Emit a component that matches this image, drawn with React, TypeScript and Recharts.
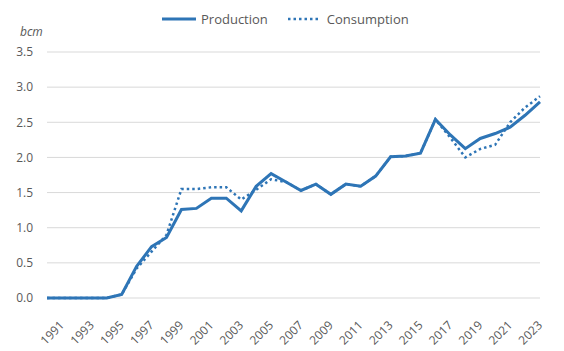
import { LineChart, Line, XAxis, YAxis, CartesianGrid } from "recharts"

const years = [
  1990, 1991, 1992, 1993, 1994, 1995, 1996, 1997, 1998, 1999, 2000, 2001,
  2002, 2003, 2004, 2005, 2006, 2007, 2008, 2009, 2010, 2011, 2012, 2013,
  2014, 2015, 2016, 2017, 2018, 2019, 2020, 2021, 2022, 2023,
]

const production = [
  0, 0, 0, 0, 0, 0.05, 0.45, 0.73, 0.86, 1.26, 1.275, 1.42, 1.42, 1.24, 1.59,
  1.77, 1.65, 1.53, 1.62, 1.475, 1.62, 1.59, 1.735, 2.01, 2.02, 2.06, 2.54,
  2.32, 2.125, 2.27, 2.34, 2.43, 2.6, 2.79,
]

const consumption = [
  0, 0, 0, 0, 0, 0.05, 0.42, 0.66, 0.9, 1.55, 1.55, 1.575, 1.575, 1.4, 1.54,
  1.69, 1.65, 1.53, 1.62, 1.475, 1.62, 1.59, 1.735, 2.01, 2.02, 2.06, 2.54,
  2.28, 2.0, 2.12, 2.18, 2.5, 2.71, 2.87,
]

const xTicks = [
  1991, 1993, 1995, 1997, 1999, 2001, 2003, 2005, 2007, 2009, 2011, 2013,
  2015, 2017, 2019, 2021, 2023,
]
const yTicks = [0, 0.5, 1, 1.5, 2, 2.5, 3, 3.5]

const data = years.map((year, i) => ({
  year,
  production: production[i],
  consumption: consumption[i],
}))

const blue = "#2e75b6"
const grey = "#595959"
const font = "'Open Sans', sans-serif"

function YearTick({ x, y, payload }: any) {
  return (
    <g transform={`translate(${x + 3},${y + 20})`}>
      <text
        textAnchor="end"
        fill={grey}
        fontSize={12}
        fontFamily={font}
        transform="rotate(-45)"
      >
        {payload.value}
      </text>
    </g>
  )
}

export default function App() {
  return (
    <div
      style={{
        position: "absolute",
        left: 0,
        top: 0,
        width: 564,
        height: 351,
        background: "#fff",
        fontFamily: font,
      }}
    >
      {/* legend */}
      <div
        style={{
          position: "absolute",
          top: 10,
          left: 162,
          display: "flex",
          alignItems: "center",
          fontSize: 13,
          color: grey,
        }}
      >
        <svg width={34} height={6} style={{ marginRight: 5 }}>
          <line x1={0} y1={3} x2={34} y2={3} stroke={blue} strokeWidth={3} />
        </svg>
        <span>Production</span>
        <svg width={33} height={6} style={{ marginLeft: 20, marginRight: 6 }}>
          <line
            x1={0}
            y1={3}
            x2={33}
            y2={3}
            stroke={blue}
            strokeWidth={2.5}
            strokeDasharray="2.5 3"
          />
        </svg>
        <span>Consumption</span>
      </div>

      <span
        style={{
          position: "absolute",
          left: 20,
          top: 23,
          fontSize: 12,
          fontStyle: "italic",
          color: grey,
        }}
      >
        bcm
      </span>

      <LineChart
        width={564}
        height={351}
        data={data}
        margin={{ top: 52, right: 24, bottom: 0, left: 0 }}
      >
        <CartesianGrid vertical={false} stroke="#d9d9d9" />
        <XAxis
          dataKey="year"
          type="number"
          domain={[1990, 2023]}
          ticks={xTicks}
          interval={0}
          height={53}
          tickLine={false}
          axisLine={false}
          tick={<YearTick />}
        />
        <YAxis
          width={47}
          domain={[0, 3.5]}
          ticks={yTicks}
          tickLine={false}
          axisLine={false}
          tickSize={0}
          tickMargin={14}
          tickFormatter={(v: number) => v.toFixed(1)}
          tick={{ fill: grey, fontSize: 12, fontFamily: font }}
        />
        <Line
          dataKey="consumption"
          stroke={blue}
          strokeWidth={2.5}
          strokeDasharray="2.5 3"
          dot={false}
          isAnimationActive={false}
        />
        <Line
          dataKey="production"
          stroke={blue}
          strokeWidth={3}
          dot={false}
          isAnimationActive={false}
        />
      </LineChart>
    </div>
  )
}
